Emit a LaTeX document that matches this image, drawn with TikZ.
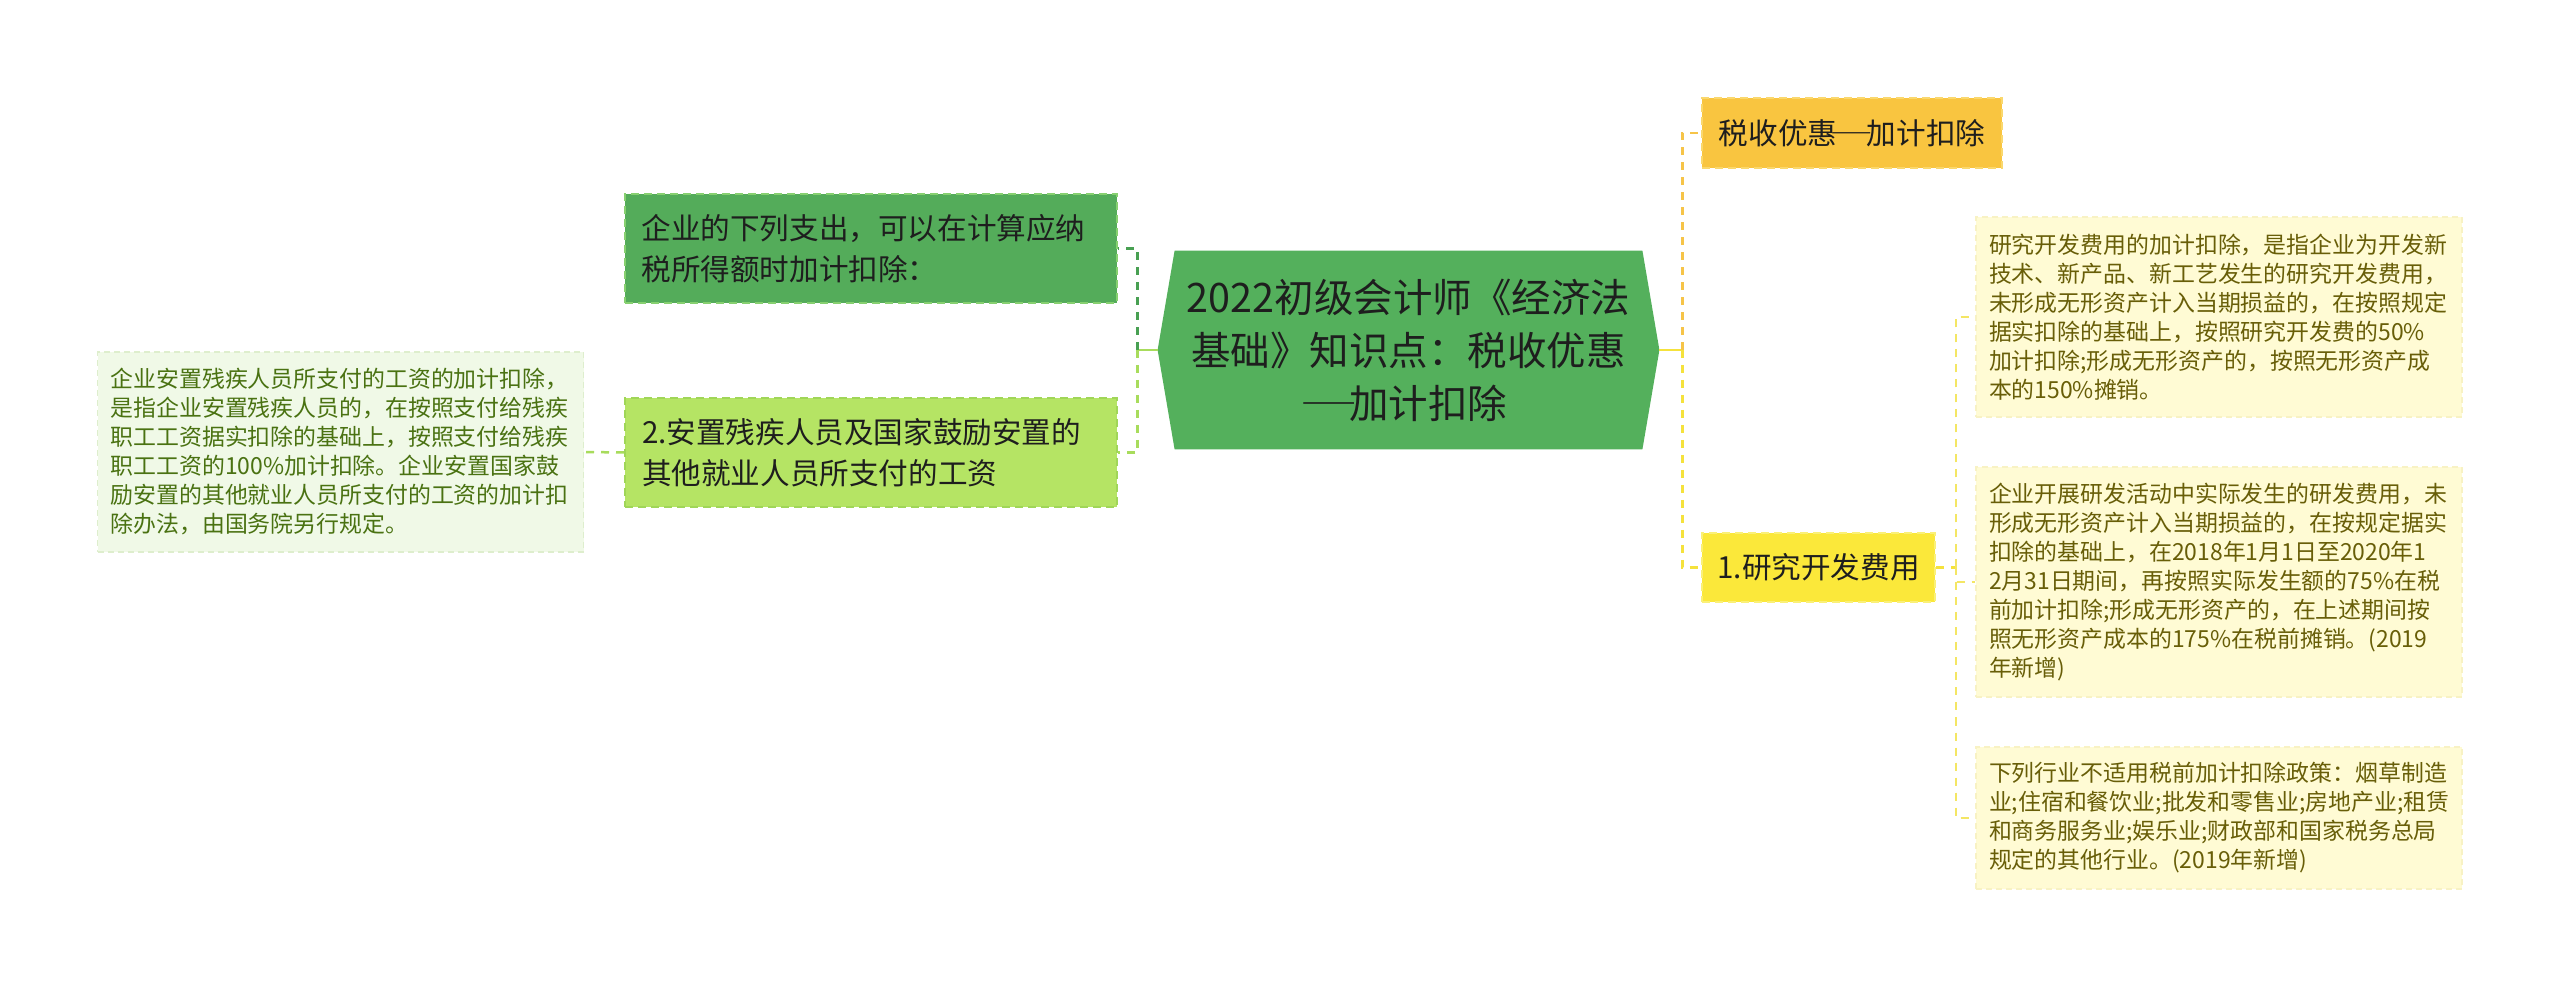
\documentclass[tikz,border=0pt]{standalone}
\usepackage{fontspec}
\setmainfont{Noto Sans CJK SC}[Script=CJK, Language=Chinese Simplified]
\newcommand{\fwdash}{\makebox[1em][c]{\scalebox{1.5}[1]{—}}}
\usetikzlibrary{backgrounds}
\definecolor{hexgreen}{RGB}{84,176,92}
\definecolor{nodeone}{RGB}{84,172,90}
\definecolor{nodeoneb}{RGB}{135,208,112}
\definecolor{nodetwo}{RGB}{181,228,100}
\definecolor{nodetwob}{RGB}{160,214,88}
\definecolor{leafg}{RGB}{240,249,231}
\definecolor{leafgb}{RGB}{222,238,205}
\definecolor{leafgt}{RGB}{74,114,18}
\definecolor{orgfill}{RGB}{249,197,64}
\definecolor{orgb}{RGB}{250,216,110}
\definecolor{yelfill}{RGB}{251,232,58}
\definecolor{yelb}{RGB}{250,240,120}
\definecolor{leafy}{RGB}{255,251,212}
\definecolor{leafyb}{RGB}{248,242,196}
\definecolor{leafyt}{RGB}{104,94,8}
\definecolor{darkline}{RGB}{72,160,82}
\definecolor{lightline}{RGB}{168,220,92}
\definecolor{orgline}{RGB}{246,196,72}
\definecolor{yelline}{RGB}{245,226,60}
\definecolor{paleline}{RGB}{244,230,100}
\definecolor{maintext}{RGB}{30,30,30}
\begin{document}
\begin{tikzpicture}[x=0.5pt,y=-0.5pt,
  centerbox/.style={inner sep=0pt, minimum width=250.5pt, minimum height=99pt,
    align=center, text=maintext, font=\fontsize{19.75pt}{26.5pt}\selectfont},
  lvlbox/.style={inner xsep=8.5pt, inner ysep=0pt, text width=229pt, minimum height=54.5pt,
    align=left, text=maintext, font=\fontsize{14.8pt}{20.5pt}\selectfont,
    line width=1pt, dash pattern=on 4pt off 2.5pt},
  tagbox/.style={inner sep=0pt, align=center, text=maintext,
    font=\fontsize{14.8pt}{20.5pt}\selectfont, line width=1pt, dash pattern=on 4pt off 2.5pt},
  leafbox/.style={inner xsep=6.5pt, inner ysep=0pt, text width=230pt, align=left,
    font=\fontsize{11.45pt}{14.5pt}\selectfont, line width=0.8pt, dash pattern=on 3pt off 2pt},
  conn/.style={line width=1.25pt, dash pattern=on 4pt off 3.5pt},
  solidconn/.style={line width=1.25pt}
]
\begin{pgfonlayer}{background}
\fill[white] (0,0) rectangle (2560,988);
\end{pgfonlayer}
\useasboundingbox (0,0) rectangle (2560,988);

% center
\node[centerbox] (c) at (1408.5,350) {2022初级会计师《经济法\\基础》知识点：税收优惠\\\fwdash 加计扣除};
\begin{pgfonlayer}{background}
\fill[hexgreen] (c.west) -- ([xshift=8.5pt]c.north west) -- ([xshift=-8.5pt]c.north east)
  -- (c.east) -- ([xshift=-8.5pt]c.south east) -- ([xshift=8.5pt]c.south west) -- cycle;
\end{pgfonlayer}

% left side
\node[lvlbox, fill=nodeone, draw=nodeoneb] (n1) at (870.5,248.5) {企业的下列支出，可以在计算应纳\\税所得额时加计扣除：};
\node[lvlbox, fill=nodetwo, draw=nodetwob] (n2) at (871,452.5) {2.安置残疾人员及国家鼓励安置的\\其他就业人员所支付的工资};
\node[leafbox, fill=leafg, draw=leafgb, text=leafgt, minimum height=100pt] (lf) at (340.5,452) {企业安置残疾人员所支付的工资的加计扣除，\\是指企业安置残疾人员的，在按照支付给残疾\\职工工资据实扣除的基础上，按照支付给残疾\\职工工资的100\%加计扣除。企业安置国家鼓\\励安置的其他就业人员所支付的工资的加计扣\\除办法，由国务院另行规定。};

% right side
\node[tagbox, fill=orgfill, draw=orgb, minimum width=150pt, minimum height=35pt] (t1) at (1852,133) {税收优惠\fwdash 加计扣除};
\node[tagbox, fill=yelfill, draw=yelb, minimum width=116.5pt, minimum height=34.5pt] (t2) at (1818.5,567.5) {1.研究开发费用};
\node[leafbox, fill=leafy, draw=leafyb, text=leafyt, minimum height=100pt] (r1) at (2219,317) {研究开发费用的加计扣除，是指企业为开发新\\技术、新产品、新工艺发生的研究开发费用，\\未形成无形资产计入当期损益的，在按照规定\\据实扣除的基础上，按照研究开发费的50\%\\加计扣除;形成无形资产的，按照无形资产成\\本的150\%摊销。};
\node[leafbox, fill=leafy, draw=leafyb, text=leafyt, minimum height=115pt] (r2) at (2219,582) {企业开展研发活动中实际发生的研发费用，未\\形成无形资产计入当期损益的，在按规定据实\\扣除的基础上，在2018年1月1日至2020年1\\2月31日期间，再按照实际发生额的75\%在税\\前加计扣除;形成无形资产的，在上述期间按\\照无形资产成本的175\%在税前摊销。(2019\\年新增)};
\node[leafbox, fill=leafy, draw=leafyb, text=leafyt, minimum height=71pt] (r3) at (2219,818) {下列行业不适用税前加计扣除政策：烟草制造\\业;住宿和餐饮业;批发和零售业;房地产业;租赁\\和商务服务业;娱乐业;财政部和国家税务总局\\规定的其他行业。(2019年新增)};

% connectors left
\draw[solidconn, lightline] (c.west) -- ++(-20,0) coordinate (lb);
\draw[conn, darkline] (lb) |- (n1.east);
\draw[conn, lightline] (lb) |- (n2.east);
\draw[conn, lightline] (n2.west) -- (lf.east);

% connectors right
\draw[solidconn, yelline] (c.east) -- ++(23,0) coordinate (rb);
\draw[conn, orgline] (rb) |- (t1.west);
\draw[conn, yelline] (rb) |- (t2.west);
\draw[conn, yelline] (t2.east) -- ++(20,0) coordinate (rb2);
\draw[conn, paleline, line width=1pt] (rb2) |- (r1.west);
\draw[conn, paleline, line width=1pt] (rb2) |- (r2.west);
\draw[conn, paleline, line width=1pt] (rb2) |- (r3.west);
\end{tikzpicture}
\end{document}
